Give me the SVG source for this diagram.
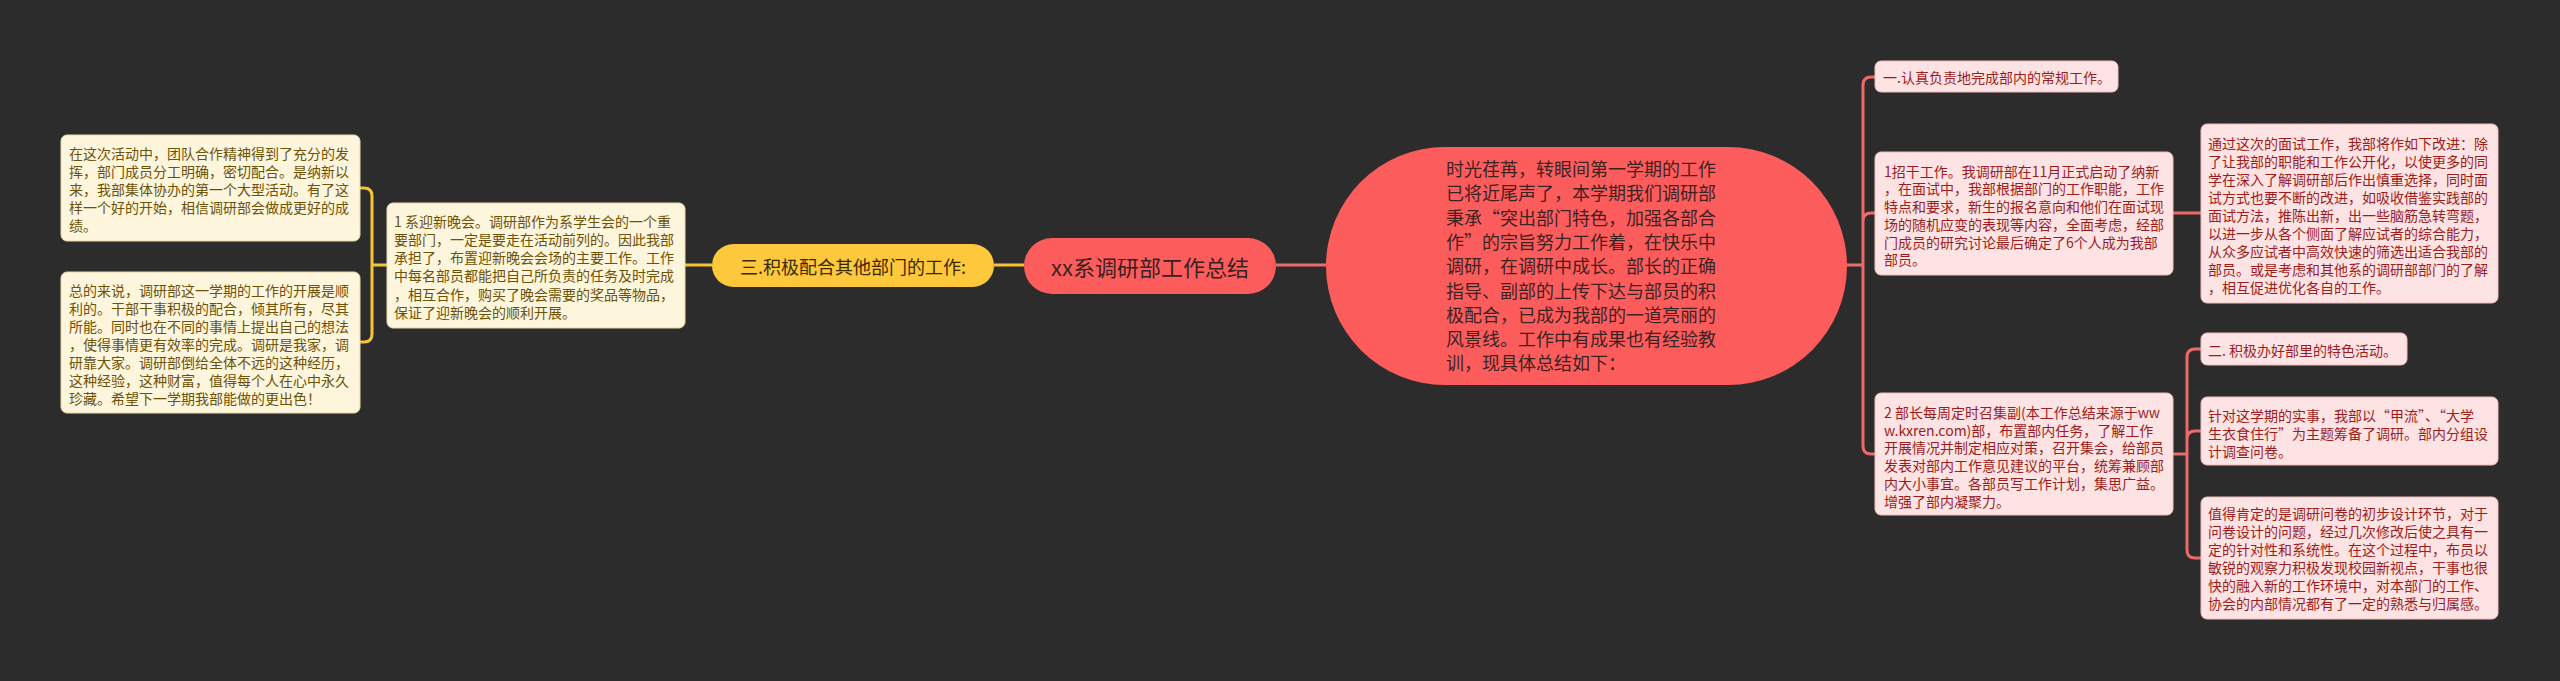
<svg xmlns="http://www.w3.org/2000/svg" width="2560" height="681" viewBox="0 0 2560 681">
<style>
text{font-family:"Noto Sans CJK SC","Liberation Sans",sans-serif;dominant-baseline:central}
.lbox{fill:#fdf5dc;stroke:#e8d9a8;stroke-width:1}
.ltxt{fill:#6e5206;font-size:14px}
.rbox{fill:#fde3e3;stroke:#f0bcbc;stroke-width:1}
.rtxt{fill:#9c1d1d;font-size:14px}
.ylink{fill:none;stroke:#f5c33a;stroke-width:3}
.rlink{fill:none;stroke:#ec6a6a;stroke-width:3}
</style>
<rect width="2560" height="681" fill="#2c2c2c"/>
<g id="connectors">
<path class="rlink" d="M1276,265 H1326"/>
<path class="ylink" d="M994,265 H1024"/>
<path class="ylink" d="M685,265 H712"/>
<path class="ylink" d="M387,265 H372 M372,265 V196 Q372,188 364,188 H360 M372,265 V334 Q372,342 364,342 H360"/>
<path class="rlink" d="M1847,265 H1863 M1863,265 V85 Q1863,77 1871,77 H1875 M1863,265 V221 Q1863,213 1871,213 H1875 M1863,265 V446 Q1863,454 1871,454 H1875"/>
<path class="rlink" d="M2173,213 H2201"/>
<path class="rlink" d="M2173,454 H2187 M2187,454 V357 Q2187,349 2195,349 H2201 M2187,454 V439 Q2187,431 2195,431 H2201 M2187,454 V550 Q2187,558 2195,558 H2201"/>
</g>
<g id="root">
<rect x="1024" y="238" width="252" height="56" rx="28" fill="#fd5c5c"/>
<text x="1150" y="265.5" font-size="22" fill="#3a2020" text-anchor="middle">xx系调研部工作总结</text>
</g>
<g id="intro">
<rect x="1326" y="147" width="521" height="238" rx="119" fill="#fd5c5c"/>
<text font-size="18" fill="#3d2222">
<tspan x="1446" y="168">时光荏苒，转眼间第一学期的工作</tspan>
<tspan x="1446" y="192.3">已将近尾声了，本学期我们调研部</tspan>
<tspan x="1446" y="216.6">秉承“突出部门特色，加强各部合</tspan>
<tspan x="1446" y="240.9">作”的宗旨努力工作着，在快乐中</tspan>
<tspan x="1446" y="265.2">调研，在调研中成长。部长的正确</tspan>
<tspan x="1446" y="289.5">指导、副部的上传下达与部员的积</tspan>
<tspan x="1446" y="313.8">极配合，已成为我部的一道亮丽的</tspan>
<tspan x="1446" y="338.1">风景线。工作中有成果也有经验教</tspan>
<tspan x="1446" y="362.4">训，现具体总结如下：</tspan>
</text>
</g>
<g id="section3">
<rect x="712" y="244" width="282" height="43" rx="21.5" fill="#fdc83b"/>
<text x="853" y="265.5" font-size="18" fill="#3a2a00" text-anchor="middle">三.积极配合其他部门的工作:</text>
</g>
<g id="party">
<rect class="lbox" x="387" y="203" width="298" height="125" rx="6"/>
<text class="ltxt">
<tspan x="394" y="220.7">1 系迎新晚会。调研部作为系学生会的一个重</tspan>
<tspan x="394" y="238.9">要部门，一定是要走在活动前列的。因此我部</tspan>
<tspan x="394" y="257.1">承担了，布置迎新晚会会场的主要工作。工作</tspan>
<tspan x="394" y="275.3">中每名部员都能把自己所负责的任务及时完成</tspan>
<tspan x="394" y="293.5">，相互合作，购买了晚会需要的奖品等物品，</tspan>
<tspan x="394" y="311.7">保证了迎新晚会的顺利开展。</tspan>
</text>
</g>
<g id="teamwork">
<rect class="lbox" x="61" y="135" width="299" height="106" rx="6"/>
<text class="ltxt">
<tspan x="69" y="153">在这次活动中，团队合作精神得到了充分的发</tspan>
<tspan x="69" y="171">挥，部门成员分工明确，密切配合。是纳新以</tspan>
<tspan x="69" y="189">来，我部集体协办的第一个大型活动。有了这</tspan>
<tspan x="69" y="207">样一个好的开始，相信调研部会做成更好的成</tspan>
<tspan x="69" y="225">绩。</tspan>
</text>
</g>
<g id="summary">
<rect class="lbox" x="61" y="272" width="299" height="141" rx="6"/>
<text class="ltxt">
<tspan x="69" y="290">总的来说，调研部这一学期的工作的开展是顺</tspan>
<tspan x="69" y="308">利的。干部干事积极的配合，倾其所有，尽其</tspan>
<tspan x="69" y="326">所能。同时也在不同的事情上提出自己的想法</tspan>
<tspan x="69" y="344">，使得事情更有效率的完成。调研是我家，调</tspan>
<tspan x="69" y="362">研靠大家。调研部倒给全体不远的这种经历，</tspan>
<tspan x="69" y="380">这种经验，这种财富，值得每个人在心中永久</tspan>
<tspan x="69" y="398">珍藏。希望下一学期我部能做的更出色！</tspan>
</text>
</g>
<g id="section1">
<rect class="rbox" x="1875" y="61" width="243" height="31" rx="6"/>
<text class="rtxt" x="1883" y="77">一.认真负责地完成部内的常规工作。</text>
</g>
<g id="recruit">
<rect class="rbox" x="1875" y="152" width="298" height="123" rx="6"/>
<text class="rtxt">
<tspan x="1884" y="170.7">1招干工作。我调研部在11月正式启动了纳新</tspan>
<tspan x="1884" y="188.4">，在面试中，我部根据部门的工作职能，工作</tspan>
<tspan x="1884" y="206.1">特点和要求，新生的报名意向和他们在面试现</tspan>
<tspan x="1884" y="223.8">场的随机应变的表现等内容，全面考虑，经部</tspan>
<tspan x="1884" y="241.5">门成员的研究讨论最后确定了6个人成为我部</tspan>
<tspan x="1884" y="259.2">部员。</tspan>
</text>
</g>
<g id="improve">
<rect class="rbox" x="2201" y="124" width="297" height="179" rx="6"/>
<text class="rtxt">
<tspan x="2208" y="143">通过这次的面试工作，我部将作如下改进：除</tspan>
<tspan x="2208" y="161">了让我部的职能和工作公开化，以使更多的同</tspan>
<tspan x="2208" y="179">学在深入了解调研部后作出慎重选择，同时面</tspan>
<tspan x="2208" y="197">试方式也要不断的改进，如吸收借鉴实践部的</tspan>
<tspan x="2208" y="215">面试方法，推陈出新，出一些脑筋急转弯题，</tspan>
<tspan x="2208" y="233">以进一步从各个侧面了解应试者的综合能力，</tspan>
<tspan x="2208" y="251">从众多应试者中高效快速的筛选出适合我部的</tspan>
<tspan x="2208" y="269">部员。或是考虑和其他系的调研部部门的了解</tspan>
<tspan x="2208" y="287">，相互促进优化各自的工作。</tspan>
</text>
</g>
<g id="meeting">
<rect class="rbox" x="1875" y="393" width="298" height="122" rx="6"/>
<text class="rtxt">
<tspan x="1884" y="411.7">2 部长每周定时召集副(本工作总结来源于ww</tspan>
<tspan x="1884" y="429.5">w.kxren.com)部，布置部内任务，了解工作</tspan>
<tspan x="1884" y="447.3">开展情况并制定相应对策，召开集会，给部员</tspan>
<tspan x="1884" y="465.1">发表对部内工作意见建议的平台，统筹兼顾部</tspan>
<tspan x="1884" y="482.9">内大小事宜。各部员写工作计划，集思广益。</tspan>
<tspan x="1884" y="500.7">增强了部内凝聚力。</tspan>
</text>
</g>
<g id="section2">
<rect class="rbox" x="2201" y="333" width="206" height="32" rx="6"/>
<text class="rtxt" x="2208" y="349.5">二. 积极办好部里的特色活动。</text>
</g>
<g id="survey">
<rect class="rbox" x="2201" y="397" width="297" height="68" rx="6"/>
<text class="rtxt">
<tspan x="2208" y="415">针对这学期的实事，我部以“甲流”、“大学</tspan>
<tspan x="2208" y="432.8">生衣食住行”为主题筹备了调研。部内分组设</tspan>
<tspan x="2208" y="450.6">计调查问卷。</tspan>
</text>
</g>
<g id="design">
<rect class="rbox" x="2201" y="497" width="297" height="122" rx="6"/>
<text class="rtxt">
<tspan x="2208" y="513">值得肯定的是调研问卷的初步设计环节，对于</tspan>
<tspan x="2208" y="531">问卷设计的问题，经过几次修改后使之具有一</tspan>
<tspan x="2208" y="549">定的针对性和系统性。在这个过程中，布员以</tspan>
<tspan x="2208" y="567">敏锐的观察力积极发现校园新视点，干事也很</tspan>
<tspan x="2208" y="585">快的融入新的工作环境中，对本部门的工作、</tspan>
<tspan x="2208" y="603">协会的内部情况都有了一定的熟悉与归属感。</tspan>
</text>
</g>
</svg>
